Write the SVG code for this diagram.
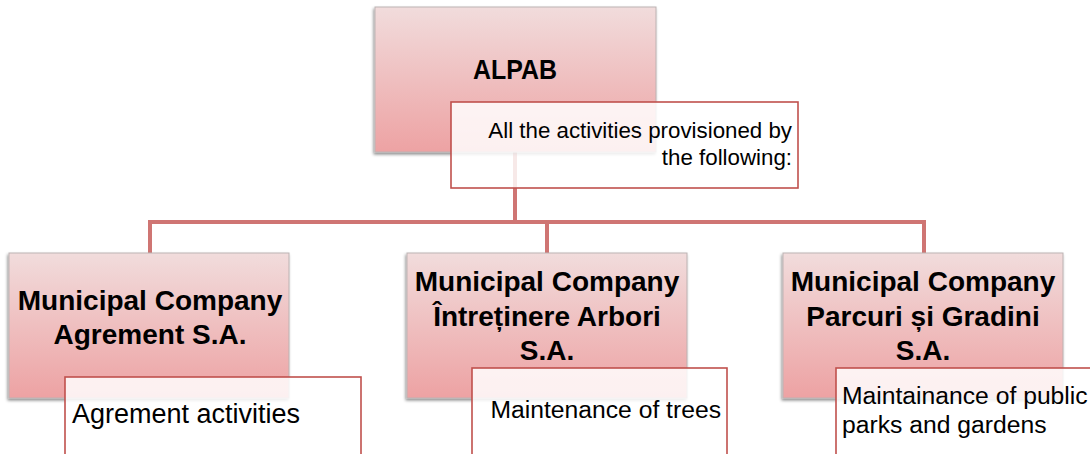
<svg xmlns="http://www.w3.org/2000/svg" width="1090" height="454" viewBox="0 0 1090 454">
  <defs>
    <linearGradient id="pinkFill" x1="0" y1="0" x2="0" y2="1">
      <stop offset="0" stop-color="#f1dcdc"/>
      <stop offset="1" stop-color="#eda2a3"/>
    </linearGradient>
    <filter id="boxShadow" x="-10%" y="-10%" width="120%" height="125%">
      <feDropShadow dx="-1" dy="2" stdDeviation="1.6" flood-color="#000" flood-opacity="0.45"/>
    </filter>
    <style>
      .org { fill: url(#pinkFill); stroke: #bdb3b3; stroke-width: 1; filter: url(#boxShadow); }
      .note { fill: #ffffff; fill-opacity: 0.84; stroke: #c0504d; stroke-width: 1.6; }
      .link { fill: none; stroke: #cf7573; stroke-width: 4; stroke-linejoin: miter; }
      text { font-family: "Liberation Sans", Arial, sans-serif; fill: #000; }
      .title { font-weight: bold; font-size: 28px; text-anchor: middle; }
      .desc { font-size: 22.3px; }
      .desc-l { font-size: 24.7px; }
      .desc-xl { font-size: 27px; }
    </style>
  </defs>

  <!-- hierarchy lines: ALPAB down to the three companies -->
  <g id="connectors">
    <path class="link" d="M515 152 V222"/>
    <path class="link" d="M150 253 V222 H924 V253"/>
    <path class="link" d="M547 222 V253"/>
  </g>

  <g id="node-alpab">
    <rect class="org" x="375" y="7" width="281" height="145"/>
    <text class="title" x="515" y="78.5" textLength="84" lengthAdjust="spacingAndGlyphs">ALPAB</text>
    <rect class="note" x="451" y="102" width="347" height="86"/>
    <text class="desc" x="792" y="138" text-anchor="end">All the activities provisioned by</text>
    <text class="desc" x="792" y="165" text-anchor="end">the following:</text>
  </g>

  <g id="node-agrement">
    <rect class="org" x="9" y="253" width="280" height="145"/>
    <text class="title" x="150" y="309.5">Municipal Company</text>
    <text class="title" x="150" y="343.5">Agrement S.A.</text>
    <rect class="note" x="65" y="377" width="296" height="90"/>
    <text class="desc-xl" x="72" y="422.5">Agrement activities</text>
  </g>

  <g id="node-arbori">
    <rect class="org" x="407" y="253" width="280" height="145"/>
    <text class="title" x="547" y="291">Municipal Company</text>
    <text class="title" x="547" y="325.5">Întreținere Arbori</text>
    <text class="title" x="547" y="360">S.A.</text>
    <rect class="note" x="472" y="368" width="255" height="100"/>
    <text class="desc-l" x="721" y="418" text-anchor="end">Maintenance of trees</text>
  </g>

  <g id="node-parcuri">
    <rect class="org" x="783" y="253" width="280" height="145"/>
    <text class="title" x="923" y="291">Municipal Company</text>
    <text class="title" x="923" y="325.5">Parcuri și Gradini</text>
    <text class="title" x="923" y="360">S.A.</text>
    <rect class="note" x="836" y="368" width="270" height="100"/>
    <text class="desc-l" x="842" y="404">Maintainance of public</text>
    <text class="desc-l" x="842" y="433">parks and gardens</text>
  </g>
</svg>
